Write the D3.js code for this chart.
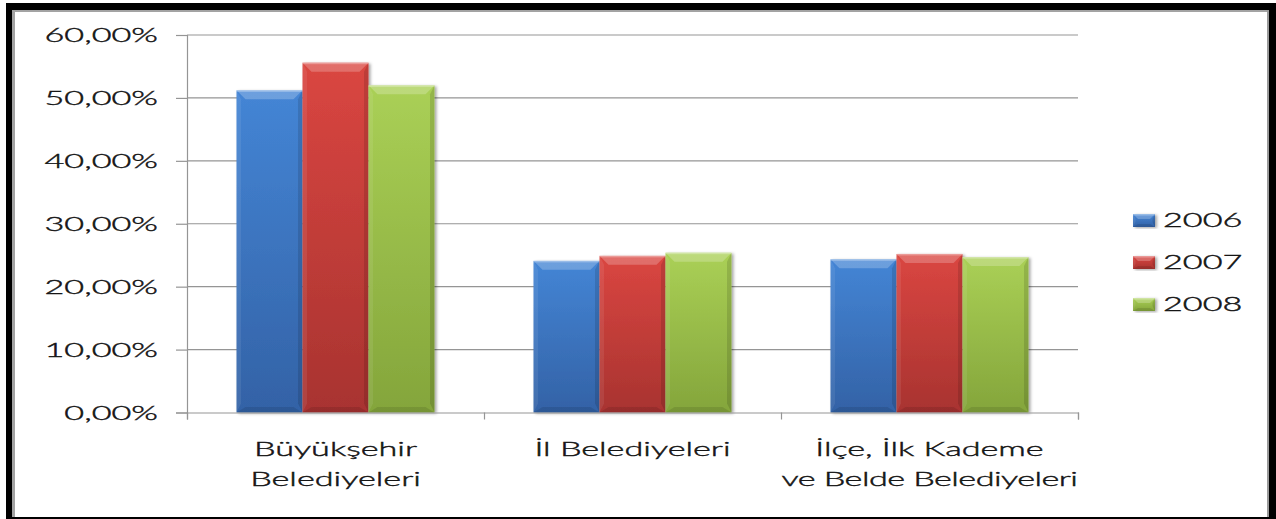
<!DOCTYPE html>
<html>
<head>
<meta charset="utf-8">
<script src="https://cdn.jsdelivr.net/npm/d3@7"></script>
<style>
  body { margin: 0; background: #fff; }
  svg { display: block; }
  text { font-family: Lato, "Open Sans", sans-serif; font-weight: 300; fill: #151515; stroke: #151515; stroke-width: 0.4px; }
</style>
</head>
<body>
<svg id="chart"></svg>
<script>
// data
var categories = [["Büyükşehir", "Belediyeleri"], ["İl Belediyeleri"], ["İlçe, İlk Kademe", "ve Belde Belediyeleri"]];
var years = ["2006", "2007", "2008"];
var values2006 = [51.2, 24.1, 24.35];
var values2007 = [55.6, 24.9, 25.2];
var values2008 = [52.0, 25.4, 24.7];
var yTicks = [0, 10, 20, 30, 40, 50, 60];

var seriesValues = [values2006, values2007, values2008];
var colors = [
  { top: "#4485d5", bottom: "#3362a6" },
  { top: "#da4641", bottom: "#a83330" },
  { top: "#aad056", bottom: "#84a53b" }
];

var W = 1276, H = 519;
var SX = 1.8;   // text in the original is stretched sideways
var FS = "19px";

var plot = { left: 187, right: 1078, top: 35, bottom: 412.5 };

var svg = d3.select("#chart").attr("width", W).attr("height", H);
var defs = svg.append("defs");

colors.forEach(function(c, i){
  var g = defs.append("linearGradient").attr("id", "grad" + i)
    .attr("x1", 0).attr("y1", 0).attr("x2", 0).attr("y2", 1);
  g.append("stop").attr("offset", "0%").attr("stop-color", c.top);
  g.append("stop").attr("offset", "100%").attr("stop-color", c.bottom);
});

var shadow = defs.append("filter").attr("id", "shadow")
  .attr("x", "-10%").attr("y", "-10%").attr("width", "130%").attr("height", "120%");
shadow.append("feDropShadow").attr("dx", 2).attr("dy", 1)
  .attr("stdDeviation", 1.6).attr("flood-color", "#000").attr("flood-opacity", 0.35);

// frame
svg.append("rect").attr("width", W).attr("height", H).attr("fill", "#fff");
svg.append("rect").attr("x", 6).attr("y", 3).attr("width", W - 6).attr("height", H - 3).attr("fill", "#000");
svg.append("rect").attr("x", 12).attr("y", 10).attr("width", 1257).attr("height", 507).attr("fill", "#fff");
svg.append("rect").attr("x", 12).attr("y", 10).attr("width", 3).attr("height", 507).attr("fill", "#a3a3a3");
svg.append("rect").attr("x", 12).attr("y", 10).attr("width", 1257).attr("height", 2).attr("fill", "#a3a3a3");
svg.append("rect").attr("x", 1267).attr("y", 10).attr("width", 2).attr("height", 507).attr("fill", "#9a9a9a");

// scales
var y = d3.scaleLinear().domain([0, 60]).range([plot.bottom, plot.top]);
var x = d3.scaleBand().domain(d3.range(categories.length)).range([plot.left, plot.right]).padding(0);
var xs = d3.scaleBand().domain(years).range([0, x.bandwidth()]).paddingInner(0).paddingOuter(0.75);
var xEdge = d3.scaleLinear().domain([0, categories.length]).range([plot.left, plot.right]);

var locale = d3.formatLocale({ decimal: ",", thousands: ".", grouping: [3], currency: ["", ""] });
var fmt = locale.format(".2f");

// gridlines
svg.append("g").selectAll("line").data(yTicks.slice(1)).enter().append("line")
  .attr("x1", plot.left).attr("x2", plot.right)
  .attr("y1", function(d){ return y(d); }).attr("y2", function(d){ return y(d); })
  .attr("stroke", "#959595").attr("stroke-width", 1.2);

// y axis
var yAxis = svg.append("g")
  .attr("transform", "translate(" + plot.left + ",0)")
  .call(d3.axisLeft(y).tickValues(yTicks).tickSize(11).tickFormat(function(d){ return fmt(d) + "%"; }));
yAxis.select(".domain").attr("stroke", "#959595").attr("stroke-width", 1.2);
yAxis.selectAll(".tick line").attr("stroke", "#959595").attr("stroke-width", 1.2);
yAxis.selectAll("text")
  .attr("x", null).attr("dy", "0.36em")
  .attr("transform", "translate(-29,0) scale(" + SX + ",1)")
  .attr("fill", null)
  .style("font-size", FS).style("font-family", null);

// bars
var groups = svg.append("g").selectAll("g").data(categories).enter().append("g")
  .attr("transform", function(d, i){ return "translate(" + x(i) + ",0)"; });

function bevelBar(sel, bx, by, bw, bh, si, b){
  b = Math.min(b, bh / 2);
  var g = sel.append("g");
  g.append("rect").attr("x", bx).attr("y", by).attr("width", bw).attr("height", bh)
    .attr("fill", "url(#grad" + si + ")").attr("filter", "url(#shadow)");
  // top bevel
  g.append("polygon").attr("points", [[bx, by], [bx + bw, by], [bx + bw - b, by + b], [bx + b, by + b]].join(" "))
    .attr("fill", "#fff").attr("opacity", 0.22);
  // left bevel
  g.append("polygon").attr("points", [[bx, by], [bx + b * 0.5, by + b], [bx + b * 0.5, by + bh - b], [bx, by + bh]].join(" "))
    .attr("fill", "#fff").attr("opacity", 0.08);
  // right bevel
  g.append("polygon").attr("points", [[bx + bw, by], [bx + bw - b * 0.5, by + b], [bx + bw - b * 0.5, by + bh - b], [bx + bw, by + bh]].join(" "))
    .attr("fill", "#000").attr("opacity", 0.12);
  // bottom bevel
  g.append("polygon").attr("points", [[bx, by + bh], [bx + bw, by + bh], [bx + bw - b, by + bh - b * 0.6], [bx + b, by + bh - b * 0.6]].join(" "))
    .attr("fill", "#000").attr("opacity", 0.1);
  // thin top highlight
  g.append("rect").attr("x", bx).attr("y", by).attr("width", bw).attr("height", 1.5)
    .attr("fill", "#fff").attr("opacity", 0.3);
}

groups.each(function(d, ci){
  var sel = d3.select(this);
  years.forEach(function(yr, si){
    var v = seriesValues[si][ci];
    bevelBar(sel, xs(yr), y(v), xs.bandwidth(), y(0) - y(v), si, 9);
  });
});

// x axis
var xAxis = svg.append("g")
  .attr("transform", "translate(0," + plot.bottom + ")")
  .call(d3.axisBottom(xEdge).tickValues(d3.range(categories.length + 1)).tickSize(7).tickFormat(""));
xAxis.select(".domain").attr("stroke", "#959595").attr("stroke-width", 1.2);
xAxis.selectAll(".tick line").attr("stroke", "#959595").attr("stroke-width", 1.2);

// category labels
groups.each(function(d, ci){
  var sel = d3.select(this);
  d.forEach(function(line, li){
    sel.append("text")
      .attr("transform", "translate(" + (x.bandwidth() / 2) + "," + (456 + li * 30) + ") scale(" + SX + ",1)")
      .attr("text-anchor", "middle")
      .style("font-size", FS)
      .style("letter-spacing", line.length > 18 ? "-0.3px" : null)
      .text(line);
  });
});

// legend
var legend = svg.append("g").attr("transform", "translate(1133,220.5)");
years.forEach(function(yr, si){
  var lg = legend.append("g").attr("transform", "translate(0," + (si * 42) + ")");
  bevelBar(lg, 0, -6.5, 22, 13, si, 5);
  lg.append("text")
    .attr("transform", "translate(30,0) scale(" + SX + ",1)")
    .attr("dy", "0.36em")
    .style("font-size", FS)
    .text(yr);
});
</script>
</body>
</html>
